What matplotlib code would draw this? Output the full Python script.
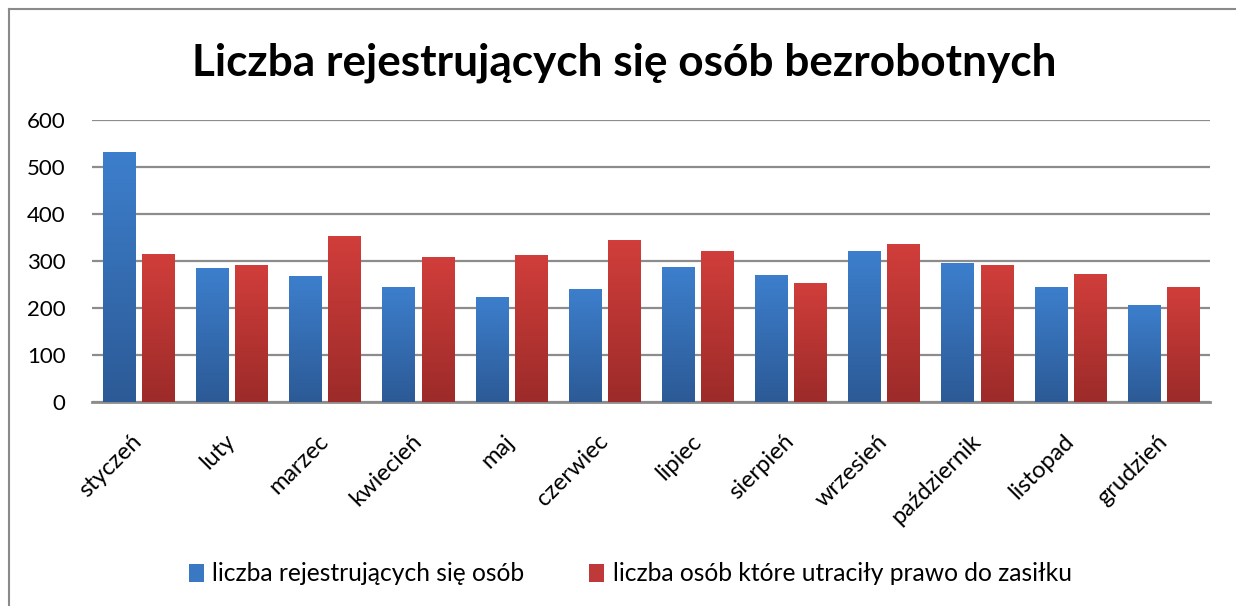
import numpy as np
import matplotlib
matplotlib.use("Agg")
import matplotlib.pyplot as plt
from matplotlib.patches import Patch
from matplotlib.lines import Line2D
from matplotlib.colors import LinearSegmentedColormap

months = ["styczeń", "luty", "marzec", "kwiecień", "maj", "czerwiec",
          "lipiec", "sierpień", "wrzesień", "październik", "listopad", "grudzień"]
registered = [532, 286, 269, 245, 224, 241, 288, 271, 322, 296, 245, 207]
lost_benefit = [315, 292, 354, 309, 313, 345, 322, 254, 337, 292, 273, 245]
series_names = ["liczba rejestrujących się osób",
                "liczba osób które utraciły prawo do zasiłku"]
yticks = [0, 100, 200, 300, 400, 500, 600]

plt.rcParams['font.family'] = ['Lato', 'DejaVu Sans']

fig = plt.figure(figsize=(12.36, 6.06), dpi=100)
ax = fig.add_axes([0.0744, 0.3366, 0.9046, 0.4654])

blue_cmap = LinearSegmentedColormap.from_list("b", ["#2c5a96", "#3d7fcd"])
red_cmap = LinearSegmentedColormap.from_list("r", ["#9c2b29", "#d13e3b"])

x = np.arange(len(months))
w = 0.345
off = 0.21


def gradient_bars(bars, cmap):
    grad = np.linspace(0, 1, 256).reshape(-1, 1)
    for b in bars:
        x0, y0 = b.get_x(), b.get_y()
        bw, bh = b.get_width(), b.get_height()
        im = ax.imshow(grad, cmap=cmap, origin="lower", aspect="auto",
                       extent=(x0, x0 + bw, y0, y0 + bh), zorder=3)
        im.set_clip_path(b)


b1 = ax.bar(x - off, registered, w, color="#3a78c4", zorder=2)
b2 = ax.bar(x + off, lost_benefit, w, color="#c0393a", zorder=2)
gradient_bars(b1, blue_cmap)
gradient_bars(b2, red_cmap)

ax.set_ylim(0, 600)
ax.set_yticks(yticks)
ax.yaxis.grid(True, color="#8c8c8c", linewidth=1.6, zorder=0)
ax.set_axisbelow(True)
for s in ["top", "right", "left"]:
    ax.spines[s].set_visible(False)
ax.spines["bottom"].set_color("#8c8c8c")
ax.spines["bottom"].set_linewidth(2)
ax.tick_params(axis="y", length=0, pad=19, labelsize=16)
ax.tick_params(axis="x", length=0, pad=26, labelsize=17)
ax.set_xticks(x)
ax.set_xticklabels(months, rotation=45, ha="right", va="center",
                   rotation_mode="anchor")
ax.set_xlim(-0.5, len(months) - 0.5)

fig.text(0.505, 0.876, "Liczba rejestrujących się osób bezrobotnych",
         ha="center", va="baseline", fontsize=31.8, fontweight="bold")

handles = [Patch(facecolor="#3a78c4"), Patch(facecolor="#c0393a")]
fig.legend(handles, series_names, loc="center", bbox_to_anchor=(0.51, 0.053),
           ncol=2, frameon=False, fontsize=17.7, handlelength=0.6,
           handleheight=0.75, handletextpad=0.35, columnspacing=2.65)

# chart frame: only the top and left edges are visible in the crop
fig.add_artist(Line2D([8.5 / 1236, 1], [1 - 8.5 / 606, 1 - 8.5 / 606],
                      transform=fig.transFigure, color="#8a8a8a", linewidth=1.5))
fig.add_artist(Line2D([8.5 / 1236, 8.5 / 1236], [0, 1 - 8.5 / 606],
                      transform=fig.transFigure, color="#8a8a8a", linewidth=1.5))

fig.savefig("out.png", dpi=100)
